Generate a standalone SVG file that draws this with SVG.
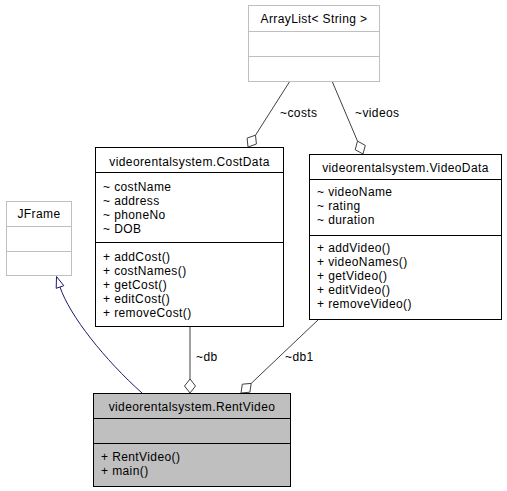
<svg xmlns="http://www.w3.org/2000/svg" width="507" height="491" viewBox="0 0 507 491">
<style>
text{font-family:"Liberation Sans",Arial,sans-serif;font-size:12px;letter-spacing:0.4px;fill:#000}
.c{text-anchor:middle}
.box{fill:#fff;stroke:#000;stroke-width:1}
.ext{fill:#fff;stroke:#bfbfbf;stroke-width:1}
.cur{fill:#bfbfbf;stroke:#000;stroke-width:1}
.ln{stroke:#000;stroke-width:1}
.lnx{stroke:#bfbfbf;stroke-width:1}
.agg{fill:none;stroke:#404040;stroke-width:1}
.dia{fill:#fff;stroke:#404040;stroke-width:1}
.gen{fill:none;stroke:#191970;stroke-width:1}
.tri{fill:#fff;stroke:#191970;stroke-width:1}
</style>
<rect width="507" height="491" fill="#fff"/>
<g id="edges">
<path class="gen" d="M142,393 C105,360 69.5,315.5 60,287"/>
<polygon class="tri" points="56.5,276.5 63.8,285.7 56.2,288.3"/>
<path class="agg" d="M190,326 L190,379"/>
<polygon class="dia" points="190,393 184.5,386 190,379 195.5,386"/>
<text x="196" y="361">~db</text>
<path class="agg" d="M319,319 L251.2,383.4"/>
<polygon class="dia" points="241,393 249.9,392.2 251.2,383.4 242.3,384.2"/>
<text x="285" y="361">~db1</text>
<path class="agg" d="M290,81 L255.5,135.2"/>
<polygon class="dia" points="248,147 256.4,144 255.5,135.2 247.1,138.1"/>
<text x="280" y="117">~costs</text>
<path class="agg" d="M332,81 L357.5,141.1"/>
<polygon class="dia" points="363,154 365.3,145.4 357.5,141.1 355.2,149.7"/>
<text x="355" y="117">~videos</text>
</g>
<g id="ArrayList">
<rect class="ext" x="248.5" y="5.5" width="131" height="76"/>
<line class="lnx" x1="248.5" y1="31.5" x2="379.5" y2="31.5"/>
<line class="lnx" x1="248.5" y1="56.5" x2="379.5" y2="56.5"/>
<text class="c" x="314" y="23">ArrayList&lt; String &gt;</text>
</g>
<g id="JFrame">
<rect class="ext" x="6.5" y="201.5" width="65" height="74"/>
<line class="lnx" x1="6.5" y1="226.5" x2="71.5" y2="226.5"/>
<line class="lnx" x1="6.5" y1="251.5" x2="71.5" y2="251.5"/>
<text class="c" x="39" y="218">JFrame</text>
</g>
<g id="CostData">
<rect class="box" x="95.5" y="147.5" width="188" height="179"/>
<line class="ln" x1="95.5" y1="172.5" x2="283.5" y2="172.5"/>
<line class="ln" x1="95.5" y1="242.5" x2="283.5" y2="242.5"/>
<text class="c" x="189.5" y="166">videorentalsystem.CostData</text>
<text x="103" y="191">~ costName</text>
<text x="103" y="205">~ address</text>
<text x="103" y="219">~ phoneNo</text>
<text x="103" y="233">~ DOB</text>
<text x="103" y="261">+ addCost()</text>
<text x="103" y="275">+ costNames()</text>
<text x="103" y="289">+ getCost()</text>
<text x="103" y="303">+ editCost()</text>
<text x="103" y="317">+ removeCost()</text>
</g>
<g id="VideoData">
<rect class="box" x="309.5" y="154.5" width="192" height="165"/>
<line class="ln" x1="309.5" y1="179.5" x2="501.5" y2="179.5"/>
<line class="ln" x1="309.5" y1="235.5" x2="501.5" y2="235.5"/>
<text class="c" x="405.5" y="172">videorentalsystem.VideoData</text>
<text x="317" y="196">~ videoName</text>
<text x="317" y="210">~ rating</text>
<text x="317" y="224">~ duration</text>
<text x="317" y="252">+ addVideo()</text>
<text x="317" y="266">+ videoNames()</text>
<text x="317" y="280">+ getVideo()</text>
<text x="317" y="294">+ editVideo()</text>
<text x="317" y="308">+ removeVideo()</text>
</g>
<g id="RentVideo">
<rect class="cur" x="93.5" y="393.5" width="197" height="93"/>
<line class="ln" x1="93.5" y1="418.5" x2="290.5" y2="418.5"/>
<line class="ln" x1="93.5" y1="443.5" x2="290.5" y2="443.5"/>
<text class="c" x="192" y="411">videorentalsystem.RentVideo</text>
<text x="101" y="461">+ RentVideo()</text>
<text x="101" y="475">+ main()</text>
</g>
</svg>
